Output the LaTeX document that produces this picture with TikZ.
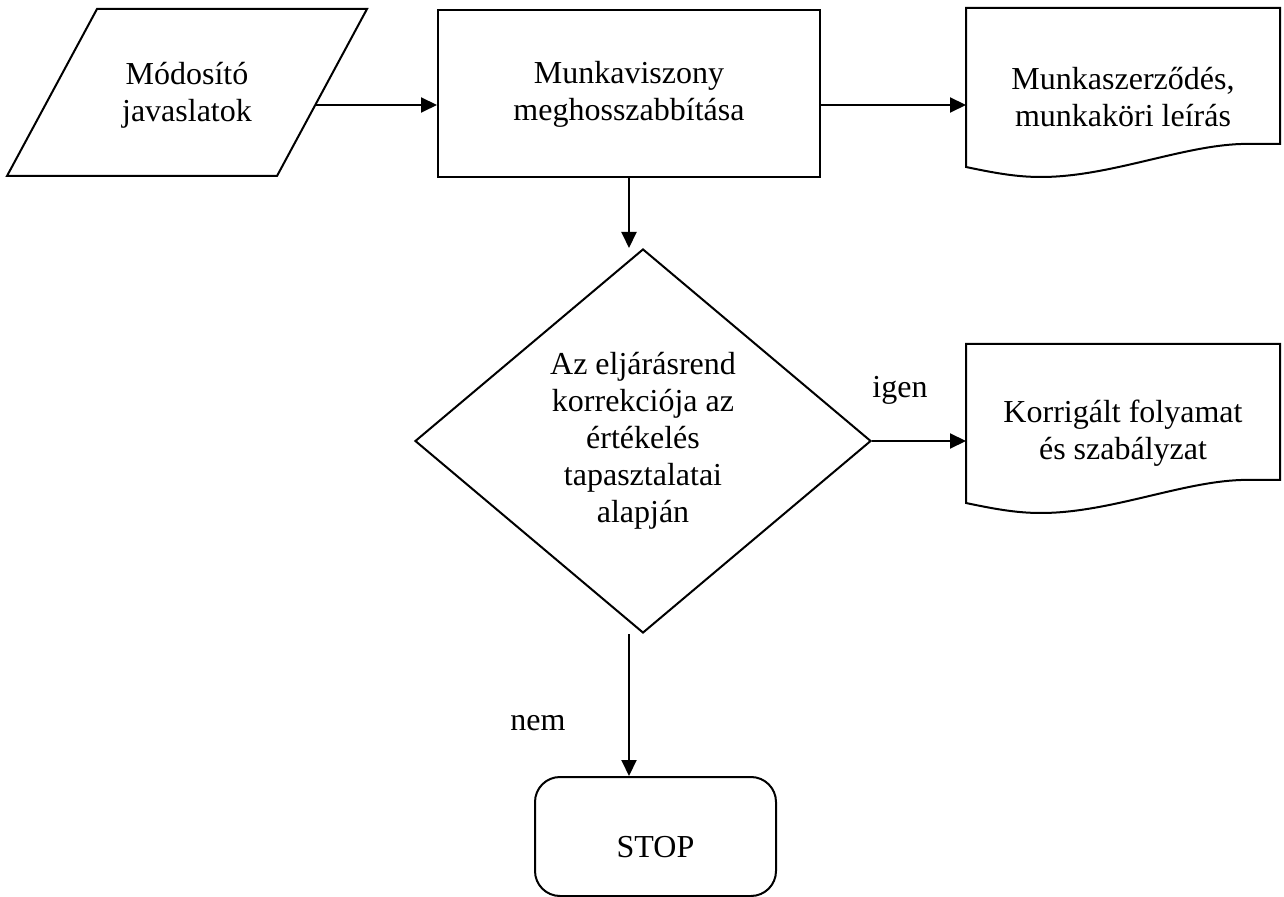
\documentclass[tikz,border=0pt]{standalone}
\usepackage{fontspec}
\setmainfont{Liberation Serif}
\usetikzlibrary{shapes.geometric,arrows.meta,calc}

\tikzset{
  box/.style={draw, rectangle, minimum width=191pt, minimum height=83.5pt, align=center, inner sep=0pt},
  docbox/.style={rectangle, minimum width=156pt, minimum height=88pt, align=center, inner sep=0pt},
  decision/.style={draw, diamond, minimum width=228pt, minimum height=192pt, align=center, inner sep=0pt},
  terminal/.style={draw, rectangle, rounded corners=12.5pt, minimum width=120.5pt, minimum height=59.5pt, inner sep=0pt},
  arr/.style={-{Triangle[length=8pt,width=7.5pt]}},
}

% document symbol: straight top, wavy bottom
\newcommand{\docframe}[1]{%
  \draw (#1.north west) -- (#1.north east) -- ($(#1.south east)+(0,-42)$) -- +(-39,0)
    .. controls +(-60,2) and +(68,0) .. ($(#1.south west)+(75,-9)$)
    .. controls +(-22,0) and +(33,7) .. ($(#1.south west)+(0,-19)$) -- cycle;}

\begin{document}
\begin{tikzpicture}[x=0.5pt, y=-0.5pt, line width=1pt, font=\fontsize{16}{18.5}\selectfont]
        \useasboundingbox (0,0) rectangle (1284,897);
        % input
        \draw (7,176) -- (97,9) -- (367,9) -- (277,176) -- cycle;
        \node[align=center] (input) at (187,95) {Módosító\\javaslatok};
        \coordinate (inputout) at (315,105);
        % process and documents
        \node[box] (work) at (629,94) {Munkaviszony\\meghosszabbítása};
        \node[docbox] (contract) at (1123,97) {Munkaszerződés,\\munkaköri leírás};
        \docframe{contract}
        \node[decision] (review) at (643,441) {Az eljárásrend\\korrekciója az\\értékelés\\tapasztalatai\\alapján};
        \node[docbox] (corrected) at (1123,433) {Korrigált folyamat\\és szabályzat};
        \docframe{corrected}
        \node[terminal, text height=21pt, text depth=0pt] (stop) at (655.5,836.5) {STOP};
        % labels
        \node[anchor=base] (yes) at (900,398) {igen};
        \node[anchor=base] (no) at (538,730) {nem};
        % arrows
        \draw[arr] (inputout) -- (inputout -| work.west);
        \draw[arr] (work.east |- inputout) -- (contract.west |- inputout);
        \draw[arr] (work.south) -- (work.south |- review.north);
        \draw[arr] (review.east) -- (review.east -| corrected.west);
        \draw[arr] (work.south |- review.south) -- (work.south |- stop.north);
      \end{tikzpicture}
\end{document}
